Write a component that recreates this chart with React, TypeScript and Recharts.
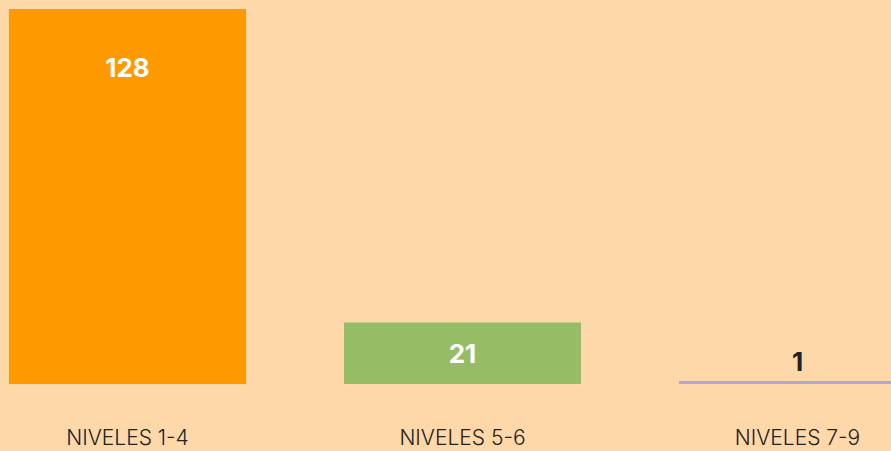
import { BarChart, Bar, XAxis, YAxis, Cell, LabelList } from "recharts";

const categories = ["NIVELES 1-4", "NIVELES 5-6", "NIVELES 7-9"];
const counts = [128, 21, 1];
const barColors = ["#FF9900", "#95BD66", "#B3A5D8"];

const data = categories.map((name, i) => ({ name, value: counts[i] }));

const FONT = "Inter, 'Noto Sans', sans-serif";

// label inside the bar near the top, centered for short bars, above for tiny ones
const renderLabel = (props: any) => {
  const { x, y, width, height, value } = props;
  const cx = x + width / 2;
  let cy: number;
  let fill = "#ffffff";
  if (height > 120) {
    cy = y + 58;
  } else if (height > 30) {
    cy = y + height / 2;
  } else {
    cy = y - 20;
    fill = "#222222";
  }
  return (
    <text
      x={cx}
      y={cy}
      textAnchor="middle"
      dominantBaseline="central"
      fill={fill}
      fontFamily={FONT}
      fontWeight={700}
      fontSize={26}
    >
      {value}
    </text>
  );
};

export default function App() {
  return (
    <div
      style={{
        position: "absolute",
        left: 0,
        top: 0,
        width: 891,
        height: 451,
        overflow: "hidden",
        background: "#FFD8AA",
      }}
    >
      <div style={{ position: "absolute", left: -40, top: 0 }}>
        <BarChart
          width={1005}
          height={451}
          data={data}
          margin={{ top: 9, right: 0, left: 0, bottom: 0 }}
          barCategoryGap={49}
        >
          <XAxis
            dataKey="name"
            axisLine={false}
            tickLine={false}
            height={67}
            tick={{ fill: "#222222", fontSize: 21, fontFamily: FONT, fontWeight: 300 }}
            dy={38}
          />
          <YAxis hide domain={[0, 128]} />
          <Bar dataKey="value" isAnimationActive={false}>
            {data.map((d, i) => (
              <Cell key={d.name} fill={barColors[i]} />
            ))}
            <LabelList dataKey="value" content={renderLabel} />
          </Bar>
        </BarChart>
      </div>
    </div>
  );
}
